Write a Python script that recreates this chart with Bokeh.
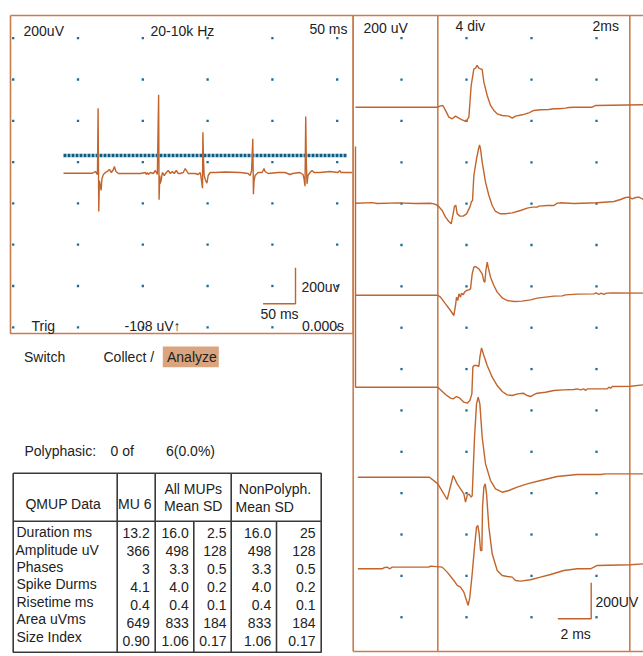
import numpy as np
from bokeh.plotting import figure
from bokeh.models import Range1d
from bokeh.core.properties import value
from bokeh.embed import file_html
from bokeh.resources import INLINE

# ---------------- data ----------------
# Free-running EMG sweep (left panel): time in ms, amplitude in uV
LEFT_T = [0, 44.7, 49.3, 52.4, 53.4, 54.4, 55.4, 58.1, 59.3, 61.6,
          64.7, 67.8, 70.8, 73.9, 77.0, 78.5, 80.9, 84.7, 90.9, 118.6,
          126.3, 127.8, 129.4, 130.9, 134.0, 138.6, 141.7, 144.8, 146.8, 147.5,
          148.6, 149.4, 150.9, 152.5, 155.5, 158.6, 161.7, 164.8, 167.9, 170.9,
          174.0, 177.1, 180.2, 184.8, 187.9, 192.5, 203.3, 207.9, 211.0, 212.5,
          214.5, 215.1, 216.1, 217.1, 218.7, 221.3, 223.3, 226.4, 234.1, 249.5,
          272.6, 284.9, 288.0, 290.3, 292.1, 293.1, 294.1, 295.7, 300.3, 306.5,
          309.5, 311.0, 315.7, 331.1, 341.9, 349.4, 354.0, 364.8, 369.6, 371.1,
          372.7, 373.8, 374.7, 375.8, 377.3, 380.4, 383.5, 386.5, 395.8, 411.2,
          423.5, 426.6, 428.1, 445.1]
LEFT_V = [0, 0, 9.5, -7.2, 361, -213, -40.6, -96, -29.5, -7.2,
          3.9, 9.5, 20.6, 3.9, 20.6, 37.3, 9.5, -1.7, -1.7, -1.7,
          3.9, -7.2, 3.9, -7.2, 3.9, -1.7, 15, -7.2, 436, -148,
          -12.8, -57, -36.7, 3.9, -12.8, 3.9, 15, -1.7, 9.5, -1.7,
          15, -1.7, -1.7, 3.9, 26, -1.7, -1.7, -7.2, 3.9, -29.5,
          -83.4, 228, 70.6, -12.8, -35, -55.6, -12.8, 3.9, 3.9, 6.7,
          3.9, -1.7, -12.8, 15, 191, -116.8, -40.6, -12.8, 3.9, 3.9,
          26, 9.5, -1.7, 3.9, 3.9, -7.2, -1.7, 3.9, -7.2, -29.5,
          -72.3, 315, 70.6, -59, -12.8, 3.9, 15, 3.9, 3.9, 9.5,
          3.9, 15, 3.9, 3.9]
TRIGGER_LEVEL_UV = 98
TRIGGER_T = [0, 438]

# Averaged MUP traces (right panel): time in ms, amplitude in uV
MUP1_T = [0, 4.94, 5.06, 5.24, 5.4, 5.6, 5.8, 6.0, 6.2, 6.4, 6.64, 6.8, 6.94, 7.1, 7.2, 7.3, 7.4,
          7.5, 7.6, 7.7, 7.9, 8.1, 8.3, 8.5, 8.8, 9.2, 9.4, 9.6, 10.0, 10.4, 10.7, 11.1, 11.6,
          11.9, 12.2, 12.6, 12.8, 13.1, 14.2, 14.4, 17.28]
MUP1_V = [0, 0, 5.8, 9.5, -18, -55, -64.6, -49.7, -60.9, -70, -79.4, -55.3, 120.7, 213.4, 217, 231.9, 217,
          213.4, 209.7, 139.3, 65.1, 9.6, -18.2, -36.8, -46, -49.8, -60.9, -49.8, -42.3, -31.2, -18.2, -14.5, -12.7,
          -9, -9, -5.3, -1.6, 0, 0, 9.6, 13.3]

MUP2_T = [0, 1.0, 1.3, 2.5, 3.6, 4.5, 4.7, 4.94, 5.2, 5.4, 5.6, 5.74, 5.84, 5.94, 6.02, 6.1, 6.26,
          6.46, 6.66, 6.86, 6.96, 7.02, 7.1, 7.26, 7.36, 7.44, 7.5, 7.6, 7.8, 8.0, 8.2, 8.4, 8.7,
          9.0, 9.4, 9.9, 10.3, 10.6, 10.9, 11.0, 11.5, 11.9, 12.1, 12.3, 13.1, 14.5, 15.5, 15.9,
          16.2, 16.4, 16.6, 16.8, 17.0, 17.28]
MUP2_V = [0, 3, -2, 2, -2, 0, -3.5, -12.7, -40.5, -77.6, -101.7, -114.6, -68.3, -16.4, -12.7, -59, -72,
          -72, -59, -22, 9.5, 15, 154, 246.7, 293, 324.5, 302.3, 228.2, 117, 42.9, -12.7, -46, -59,
          -59, -53.5, -40.5, -27.6, -22, -22, -16.4, -12.7, -12.7, 0.3, 2.1, -1.6, 2.1, 9.5, 20.6,
          31.7, 33.6, 24.3, 31.7, 33.6, 20.6]

MUP3_T = [0, 4.94, 5.1, 5.4, 5.7, 5.9, 6.0, 6.06, 6.14, 6.2, 6.3, 6.36, 6.46, 6.54, 6.66, 6.8, 6.9,
          7.0, 7.1, 7.2, 7.4, 7.6, 7.7, 7.76, 7.82, 7.9, 7.96, 8.1, 8.3, 8.5, 8.8, 9.1, 9.5,
          10.0, 10.5, 10.9, 11.4, 11.9, 12.4, 12.6, 13.3, 14.3, 14.44, 14.6, 14.74, 14.9, 15.06,
          15.4, 17.28]
MUP3_V = [0, 0, -10.9, -48, -85, -112.8, -57.2, -10.9, -29.5, 7.6, -10.9, 11.3, 2, 16.9, 26.1, 29.8, 35.4,
          118.8, 155.9, 159.6, 146.6, 118.8, 78, 72.5, 137.3, 183.6, 155.9, 100.3, 53.9, 16.9, -14.6, -29.5, -35,
          -33.2, -25.7, -16.5, -10.9, -5.4, -3.5, 2, 5.7, 7.6, 13.2, 3.9, 11.3, 3.9, 11.3,
          13.2, 11.3]

MUP4_T = [0, 0, 4.94, 5.1, 5.4, 5.7, 5.86, 6.06, 6.26, 6.5, 6.7, 6.86, 6.98, 7.04, 7.1, 7.3, 7.4,
          7.46, 7.56, 7.7, 7.9, 8.2, 8.5, 8.8, 9.1, 9.4, 9.74, 10.06, 10.3, 10.5, 10.7, 10.9,
          11.4, 11.9, 12.5, 13.1, 13.3, 13.5, 13.7, 13.8, 13.9, 15.1, 15.2, 15.3, 15.4, 16.5, 17.28]
MUP4_V = [1338, 0, 0, -14.8, -40.8, -61.1, -64.9, -51.9, -61.1, -83.4, -88.9, -74.1, -37.1, 111.2, 120.4, 120.4, 114.9,
          166.8, 218.7, 176, 120.4, 55.6, 9.3, -24.1, -42.6, -46.3, -37.1, -33.4, -46.3, -51.9, -40.8, -33.4,
          -27.8, -18.5, -14.8, -13, -9.3, -14.8, -9.3, -18.5, -9.3, -9.3, 0, -5.6, 3.7, 5.6, 13]

MUP5_T = [0.14, 4.44, 4.94, 5.5, 5.66, 5.86, 6.1, 6.3, 6.5, 6.6, 6.7, 6.8, 6.94, 7.0, 7.06, 7.14, 7.26,
          7.36, 7.46, 7.6, 7.8, 8.1, 8.4, 8.8, 9.2, 9.7, 10.3, 11.1, 12.1, 13.3, 14.7, 15.0, 17.28]
MUP5_V = [0, 0, -37, -124, -65, 9.3, -37, -65, -92.7, -139, -102, -92.7, -111, -102, 37, 222, 407.7,
          444.7, 407.7, 222, 74, -18.5, -65, -83.4, -74, -55.6, -37, -18.5, 3.7, 14.8, 14.8, 18.5, 18.5]

MUP6_T = [0.14, 1.6, 1.7, 1.9, 2.06, 2.2, 4.4, 4.5, 5.2, 5.5, 5.9, 6.1, 6.3, 6.5, 6.66, 6.76, 6.86,
          7.0, 7.14, 7.26, 7.34, 7.42, 7.5, 7.58, 7.62, 7.7, 7.78, 7.86, 8.0, 8.2, 8.5, 8.8, 9.1,
          9.4, 9.6, 9.9, 10.5, 11.1, 11.7, 12.5, 13.3, 14.1, 14.5, 16.5, 17.28]
MUP6_V = [0, 0, 5.6, 9.3, 0, 9.3, 9.3, 14.8, 9.3, -18.5, -64.9, -92.7, -101.9, -129.7, -176, -203.8, -157.5,
          -27.8, 120.4, 231.6, 240.9, 194.6, 101.9, 101.9, 342.8, 454, 472.5, 417, 231.6, 83.4, -9.3, -37, -42.6,
          -46.3, -64.9, -68.6, -61.1, -46.3, -31.5, -9.3, 0, 0, 18.5, 22.2, 27.8]

MUP_T = [MUP1_T, MUP2_T, MUP3_T, MUP4_T, MUP5_T, MUP6_T]
MUP_V = [MUP1_V, MUP2_V, MUP3_V, MUP4_V, MUP5_V, MUP6_V]

# QMUP table
TABLE_ROWS = ["Duration ms", "Amplitude uV", "Phases", "Spike Durms", "Risetime ms", "Area uVms", "Size Index"]
MU6 = ["13.2", "366", "3", "4.1", "0.4", "649", "0.90"]
ALL_MEAN = ["16.0", "498", "3.3", "4.0", "0.4", "833", "1.06"]
ALL_SD = ["2.5", "128", "0.5", "0.2", "0.1", "184", "0.17"]
NP_MEAN = ["16.0", "498", "3.3", "4.0", "0.4", "833", "1.06"]
NP_SD = ["25", "128", "0.5", "0.2", "0.1", "184", "0.17"]

# ---------------- styling / layout ----------------
W, H = 643, 656
FONT = "Liberation Sans"
TRACE = "#c2652d"
FRAME = "#c97c4c"
DOT = "#1b6e95"
TRIG = "#0e5e86"
HILITE = "#d9a47e"
TXT = "#222222"
TBL = "#3a3a3a"

UV_PER_PX = 5.56          # 200 uV = 36 px
LEFT_PX_PER_MS = 0.648    # 50 ms = 32.4 px
RIGHT_PX_PER_MS = 16.67   # 2 ms = 33.3 px
LEFT_X0, LEFT_BASE = 63.0, 172.7
RIGHT_X0 = 355.0
MUP_BASES = [106.7, 202.7, 294.7, 386.7, 476.7, 568.3]

p = figure(width=W, height=H, x_range=Range1d(0, W), y_range=Range1d(H, 0),
           output_backend="svg", toolbar_location=None, min_border=0,
           background_fill_color="white", border_fill_color="white")
p.xaxis.visible = False
p.yaxis.visible = False
p.grid.visible = False
p.outline_line_color = None


def yrange_for(base_px):
    return Range1d(start=-(H - base_px) * UV_PER_PX, end=base_px * UV_PER_PX)


p.extra_x_ranges = {
    "tl": Range1d(start=-LEFT_X0 / LEFT_PX_PER_MS, end=(W - LEFT_X0) / LEFT_PX_PER_MS),
    "tr": Range1d(start=-RIGHT_X0 / RIGHT_PX_PER_MS, end=(W - RIGHT_X0) / RIGHT_PX_PER_MS),
}
yr = {"vl": yrange_for(LEFT_BASE)}
for i, b in enumerate(MUP_BASES):
    yr["v%d" % i] = yrange_for(b)
p.extra_y_ranges = yr


def txt(x, y, s, align="left", size=14, color=TXT):
    p.text(x=[x], y=[y], text=[s], text_align=align, text_baseline="middle",
           text_font=value(FONT), text_font_size=value("%dpx" % size), text_color=color)


# ---- grid dots ----
gx, gy = np.meshgrid(12.7 + 64.8 * np.arange(6), 37.7 + 41.3 * np.arange(8))
p.scatter(gx.ravel(), gy.ravel(), marker="square", size=2.3, color=DOT, line_color=None)
rx, ry = np.meshgrid(401 + 65.0 * np.arange(4), 37.7 + 41.36 * np.arange(15))
p.scatter(rx.ravel(), ry.ravel(), marker="square", size=2.3, color=DOT, line_color=None)

# ---- frames ----
p.line([10, 352.7, 352.7, 10, 10], [15, 15, 333, 333, 15], line_color=FRAME, line_width=1.6)
p.line([352.7, W], [15, 15], line_color=FRAME, line_width=1.6)
p.line([352.7, 352.7], [15, 651], line_color=FRAME, line_width=1.6)
p.line([352.7, W], [651, 651], line_color=FRAME, line_width=1.6)
p.line([437.3, 437.3], [15, 651], line_color=FRAME, line_width=1.6)
p.line([629.3, 629.3], [15, 651], line_color=FRAME, line_width=1.6)

# ---- left panel trace ----
p.line(TRIGGER_T, [TRIGGER_LEVEL_UV] * 2, x_range_name="tl", y_range_name="vl",
       line_color=TRIG, line_width=3.6, line_dash="3 1")
p.line(LEFT_T, LEFT_V, x_range_name="tl", y_range_name="vl", line_color=TRACE, line_width=1.4)

# ---- right panel MUPs ----
for i in range(6):
    p.line(MUP_T[i], MUP_V[i], x_range_name="tr", y_range_name="v%d" % i,
           line_color=TRACE, line_width=1.4)

# ---- scale bars ----
lv = 200 / UV_PER_PX
lh = 50 * LEFT_PX_PER_MS
p.line([295 - lh, 295, 295], [303.3, 303.3, 303.3 - lv], line_color=TRACE, line_width=1.4)
rh = 2 * RIGHT_PX_PER_MS
p.line([590.7 - rh, 590.7, 590.7], [618.3, 618.3, 618.3 - lv], line_color=TRACE, line_width=1.4)

# ---- left panel texts ----
txt(23, 30, "200uV")
txt(150, 30, "20-10k Hz")
txt(347, 28, "50 ms", align="right")
txt(301, 286, "200uv")
txt(260, 313.5, "50 ms")
txt(31, 325, "Trig")
txt(124, 325.5, "-108 uV\u2191")
txt(343.5, 325.5, "0.000s", align="right")

# ---- right panel texts ----
txt(363, 27, "200 uV")
txt(455, 25.5, "4 div")
txt(618.5, 25.5, "2ms", align="right")
txt(595, 601.5, "200UV")
txt(560, 633, "2 ms")

# ---- controls ----
txt(23.5, 356, "Switch")
txt(103, 356, "Collect /")
p.quad(left=[162.3], right=[218.3], top=[346], bottom=[366.7], fill_color=HILITE, line_color=None)
txt(166.5, 356, "Analyze")
txt(24, 450, "Polyphasic:")
txt(110, 450, "0 of")
txt(165.5, 450, "6(0.0%)")

# ---- table ----
tl, tr_, tt, tb = 12.7, 320.7, 472.7, 651.7
hdr = 520.7
p.line([tl, tr_, tr_, tl, tl], [tt, tt, tb, tb, tt], line_color=TBL, line_width=1.6)
p.line([tl, tr_], [hdr, hdr], line_color=TBL, line_width=1.6)
for xv in (116.7, 154.7, 230.7):
    p.line([xv, xv], [tt, tb], line_color=TBL, line_width=1.6)
for xv in (193.3, 276.0):
    p.line([xv, xv], [hdr, tb], line_color=TBL, line_width=1.6)

txt(62.7, 503.5, "QMUP Data", align="center")
txt(117.5, 503.5, "MU 6")
txt(192.7, 488.5, "All MUPs", align="center")
txt(192.7, 505, "Mean SD", align="center")
txt(274.5, 488.5, "NonPolyph.", align="center")
txt(235, 506.5, "Mean   SD")

for i, lab in enumerate(TABLE_ROWS):
    txt(16 if i != 1 else 15, 531.7 + 17.4 * i, lab)
cols = [(149.3, MU6), (188.3, ALL_MEAN), (226.0, ALL_SD), (270.7, NP_MEAN), (315.0, NP_SD)]
for xr, vals in cols:
    for i, s in enumerate(vals):
        txt(xr, 532.3 + 18.0 * i, s, align="right")

open("out.html", "w").write(file_html(p, INLINE))
